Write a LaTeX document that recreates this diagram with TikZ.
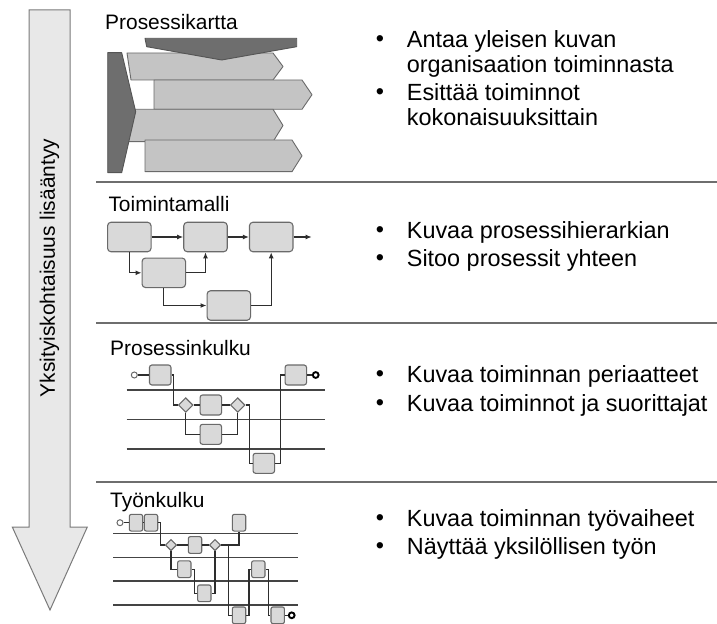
\documentclass[tikz,border=0pt]{standalone}
\usepackage{fontspec}
\setmainfont{Liberation Sans}
\usetikzlibrary{arrows.meta,shapes.geometric}

\definecolor{mapLight}{HTML}{C4C4C4}
\definecolor{mapDark}{HTML}{6E6E6E}
\definecolor{mapEdge}{HTML}{555555}
\definecolor{boxFill}{HTML}{D9D9D9}
\definecolor{boxEdge}{HTML}{6A6A6A}
\definecolor{wire}{HTML}{2E2E2E}
\definecolor{lane}{HTML}{444444}
\definecolor{rule}{HTML}{6E6E6E}
\definecolor{bigArrow}{HTML}{E8E8E8}
\definecolor{bigEdge}{HTML}{7A7A7A}

\tikzset{
  title/.style={anchor=base west, inner sep=0pt, font=\fontsize{21}{23}\selectfont},
  bulletmark/.style={anchor=base, inner sep=0pt, font=\fontsize{23.5}{23}\selectfont},
  bullettext/.style={anchor=north west, inner sep=0pt, align=left, font=\fontsize{23.5}{23}\selectfont},
  lightarrow/.style={draw=boxEdge, fill=mapLight, line width=0.9bp, line join=round},
  darkshape/.style={draw=mapEdge, fill=mapDark, line width=0.9bp, line join=round},
  modelbox/.style={draw=boxEdge, fill=boxFill, line width=1.1bp, rounded corners=3.5bp,
                   minimum width=43.5bp, minimum height=29.5bp, inner sep=0pt},
  flowbox/.style={draw=boxEdge, fill=boxFill, line width=1.1bp, rounded corners=2.5bp,
                  minimum width=21.5bp, minimum height=20bp, inner sep=0pt},
  workbox/.style={draw=boxEdge, fill=boxFill, line width=1.1bp, rounded corners=2bp,
                  minimum width=13.4bp, minimum height=16.7bp, inner sep=0pt},
  gate/.style={diamond, draw=boxEdge, fill=boxFill, line width=1.1bp, inner sep=0pt,
               minimum width=#1, minimum height=#1},
  startev/.style={circle, draw=boxEdge, fill=white, line width=1bp, inner sep=0pt, minimum size=6bp},
  endev/.style={circle, draw=black, fill=white, line width=1.9bp, inner sep=0pt, minimum size=5.8bp},
  link/.style={draw=wire, line width=1.2bp},
  flowarrow/.style={link, -{Latex[length=6bp,width=5bp]}},
  laneline/.style={draw=lane, line width=1.2bp},
  separator/.style={draw=rule, line width=1.6bp}
}

\begin{document}
\begin{tikzpicture}[x=1bp,y=-1bp]
\useasboundingbox (0,0) rectangle (717,624);

% ---- level-of-detail arrow on the left
\draw[draw=bigEdge, fill=bigArrow, line width=1bp, line join=miter]
  (29,10) -- (70,10) -- (70,527) -- (87.3,527) -- (50,610) -- (12.3,527) -- (29,527) -- cycle;
\node[rotate=90, inner sep=0pt, font=\fontsize{21}{23}\selectfont] (detail) at (49.5,268)
  {Yksityiskohtaisuus lisääntyy};

% ---- separators
\draw[separator] (96,182) -- (717,182);
\draw[separator] (96,323) -- (717,323);
\draw[separator] (96,482) -- (717,482);

% ---- section titles
\node[title] (t1) at (105,30) {Prosessikartta};
\node[title] (t2) at (108.3,211.7) {Toimintamalli};
\node[title] (t3) at (110,355) {Prosessinkulku};
\node[title] (t4) at (110,507) {Työnkulku};

% ---- process map
\draw[lightarrow] (127,53) -- (273,53) -- (283,66.5) -- (273,80) -- (131,80) -- cycle;
\draw[lightarrow] (154,80) -- (302,80) -- (312,94.7) -- (302,109.3) -- (154,109.3) -- cycle;
\draw[lightarrow] (128,109.3) -- (273,109.3) -- (283,125.5) -- (273,141.7) -- (128,141.7) -- cycle;
\draw[lightarrow] (145,140) -- (292,140) -- (302,155.8) -- (292,171.7) -- (145,171.7) -- cycle;
\draw[darkshape] (107.7,52.7) -- (121.7,52.7) -- (135.7,111.7) -- (121.7,172.7) -- (107.7,172.7) -- cycle;
\draw[darkshape] (145,38.3) -- (296.7,38.3) -- (296.7,46.7) -- (221.7,60) -- (146.7,46.7) -- cycle;

% ---- operating model
\node[modelbox] (m1) at (129.3,237) {};
\node[modelbox] (m2) at (205.5,237) {};
\node[modelbox] (m3) at (271.2,237) {};
\node[modelbox] (m4) at (163.8,272.8) {};
\node[modelbox] (m5) at (228.8,305.5) {};
\coordinate (mout) at (311.7,237);
\draw[flowarrow] (m1.east) -- (m2.west);
\draw[flowarrow] (m2.east) -- (m3.west);
\draw[flowarrow] (m3.east) -- (mout);
\draw[flowarrow] (m1.south) |- (m4.west);
\draw[flowarrow] (m4.east) -| (m2.south);
\draw[flowarrow] (m4.south) |- (m5.west);
\draw[flowarrow] (m5.east) -| (m3.south);

% ---- process flow
\draw[laneline] (126.7,390) -- (325,390);
\draw[laneline] (126.7,419.3) -- (325,419.3);
\draw[laneline] (126.7,449) -- (325,449);
\node[startev] (ps) at (134.3,375) {};
\node[flowbox] (p1) at (160.2,375) {};
\node[gate=14.6bp] (pd1) at (185.7,405) {};
\node[flowbox] (p2) at (210.8,405) {};
\node[gate=14.6bp] (pd2) at (237.7,405) {};
\node[flowbox] (p3) at (210.8,434.3) {};
\node[flowbox] (p4) at (263.8,463.3) {};
\node[flowbox] (p5) at (295.8,375) {};
\node[endev] (pe) at (315.7,375) {};
\draw[link] (ps.east) -- (p1.west);
\draw[link] (p1.east) -- ++(2.3,0) |- (pd1.west);
\draw[link] (pd1.east) -- (p2.west);
\draw[link] (p2.east) -- (pd2.west);
\draw[link] (pd1.south) |- (p3.west);
\draw[link] (p3.east) -| (pd2.south);
\draw[link] (pd2.east) -- ++(4,0) |- (p4.west);
\draw[link] (p4.east) -- ++(5,0) |- (p5.west);
\draw[link] (p5.east) -- (pe.west);

% ---- work flow
\draw[laneline] (113.3,533.3) -- (298.3,533.3);
\draw[laneline] (113.3,557.3) -- (298.3,557.3);
\draw[laneline] (113.3,581) -- (298.3,581);
\draw[laneline] (113.3,605) -- (298.3,605);
\node[startev] (ws) at (120,522.7) {};
\node[workbox] (w1) at (136,522.7) {};
\node[workbox] (w2) at (151,522.7) {};
\node[gate=11.4bp] (wd1) at (171,545) {};
\node[workbox] (w3) at (195,545) {};
\node[gate=11.4bp] (wd2) at (215,545) {};
\node[workbox] (w4) at (184.3,569.2) {};
\node[workbox] (w5) at (204.3,593.3) {};
\node[workbox] (w6) at (239,522.7) {};
\node[workbox] (w7) at (239,615.3) {};
\node[workbox] (w8) at (258.3,569.2) {};
\node[workbox] (w9) at (277.7,615.3) {};
\node[endev] (we) at (291.7,615.3) {};
\coordinate (wj) at (228.3,545);
\draw[link] (ws.east) -- (w1.west);
\draw[link] (w1.east) -- (w2.west);
\draw[link] (w2.east) -- ++(2.3,0) |- (wd1.west);
\draw[link] (wd1.east) -- (w3.west);
\draw[link] (w3.east) -- (wd2.west);
\draw[link] (wd1.south) |- (w4.west);
\draw[link] (w4.east) -- ++(3.3,0) |- (w5.west);
\draw[link] (w5.east) -| (wd2.south);
\draw[link] (wd2.east) -- (wj) |- (w7.west);
\draw[link] (w6.south) |- (wj);
\draw[link] (w7.east) -- ++(2.7,0) |- (w8.west);
\draw[link] (w8.east) -- ++(2.7,0) |- (w9.west);
\draw[link] (w9.east) -- (we.west);

% ---- descriptions
\node[bulletmark] (b11) at (380,46.7) {\textbullet};
\node[bullettext] (d11) at (406.7,30.6) {\strut Antaa yleisen kuvan\\organisaation toiminnasta};
\node[bulletmark] (b12) at (380,99.3) {\textbullet};
\node[bullettext] (d12) at (406.7,83.2) {\strut Esittää toiminnot\\kokonaisuuksittain};

\node[bulletmark] (b21) at (380,237.3) {\textbullet};
\node[bullettext] (d21) at (406.7,221.2) {\strut Kuvaa prosessihierarkian};
\node[bulletmark] (b22) at (380,265.7) {\textbullet};
\node[bullettext] (d22) at (406.7,249.6) {\strut Sitoo prosessit yhteen};

\node[bulletmark] (b31) at (380,381.7) {\textbullet};
\node[bullettext] (d31) at (406.7,365.6) {\strut Kuvaa toiminnan periaatteet};
\node[bulletmark] (b32) at (380,410) {\textbullet};
\node[bullettext] (d32) at (406.7,393.9) {\strut Kuvaa toiminnot ja suorittajat};

\node[bulletmark] (b41) at (380,525) {\textbullet};
\node[bullettext] (d41) at (406.7,508.9) {\strut Kuvaa toiminnan työvaiheet};
\node[bulletmark] (b42) at (380,553.3) {\textbullet};
\node[bullettext] (d42) at (406.7,537.2) {\strut Näyttää yksilöllisen työn};
\end{tikzpicture}
\end{document}
